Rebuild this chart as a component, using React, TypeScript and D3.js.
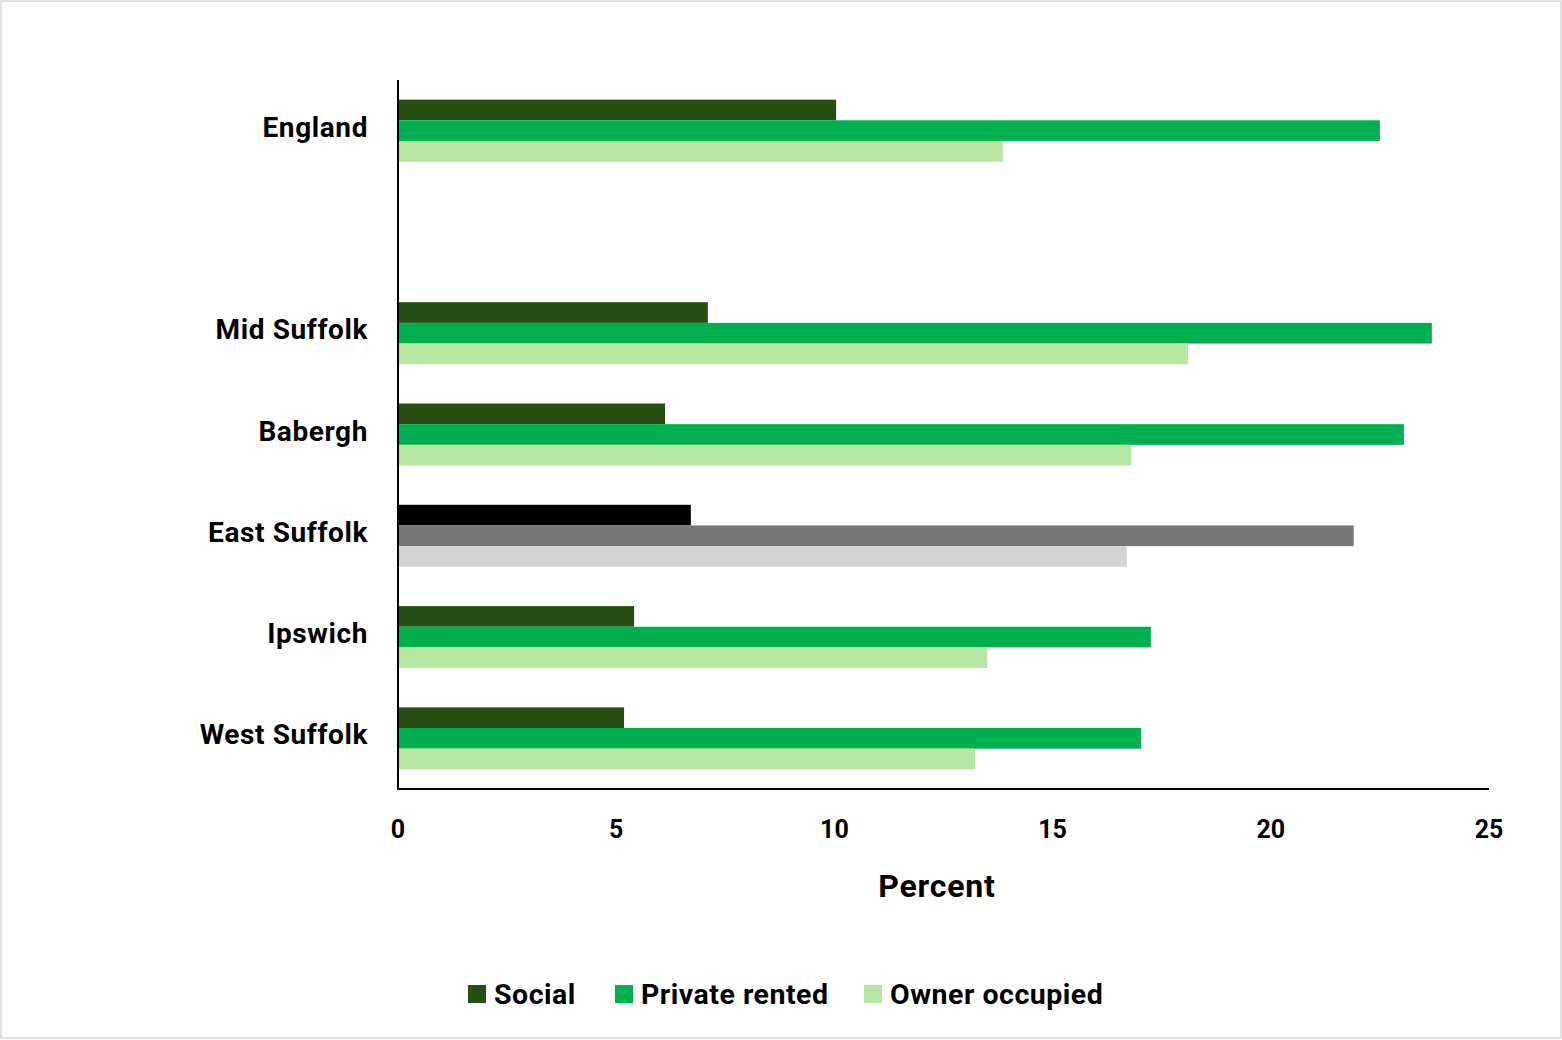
import React from "react";
import * as d3 from "d3";

const categories = ["England", "", "Mid Suffolk", "Babergh", "East Suffolk", "Ipswich", "West Suffolk"];
const seriesNames = ["Social", "Private rented", "Owner occupied"];
const socialValues = [10.04, NaN, 7.1, 6.12, 6.71, 5.41, 5.18];
const privateValues = [22.5, NaN, 23.69, 23.05, 21.9, 17.25, 17.03];
const ownerValues = [13.86, NaN, 18.1, 16.8, 16.7, 13.5, 13.22];
const xTicks = [0, 5, 10, 15, 20, 25];

const greenColors = ["#274E13", "#00B050", "#B5E6A2"];
const greyColors = ["#000000", "#767676", "#D3D3D3"];
const highlighted = "East Suffolk";

const W = 1562;
const H = 1040;
const FONT = "Roboto, 'Liberation Sans', sans-serif";

export default function App() {
  const x = d3.scaleLinear().domain([0, 25]).range([398, 1489]);
  const y = d3.scaleBand().domain(categories).range([80, 789]).paddingInner(0).paddingOuter(0);
  const groupH = 62;
  const inner = d3.scaleBand().domain(seriesNames).range([0, groupH]);
  const seriesVals = [socialValues, privateValues, ownerValues];

  const legendX = [468, 615, 864];

  return (
    <svg width={W} height={H} style={{ position: "absolute", left: 0, top: 0, background: "#fff" }}>
      <rect x={1} y={1} width={W - 2} height={H - 3} fill="#fff" stroke="#d9d9d9" strokeWidth={1.5} />
      {categories.map((c, i) => {
        if (!c) return null;
        const cy = (y(c) as number) + y.bandwidth() / 2;
        const top = cy - groupH / 2;
        return (
          <g key={c}>
            {seriesNames.map((s, j) => {
              const v = seriesVals[j][i];
              const col = c === highlighted ? greyColors[j] : greenColors[j];
              return (
                <rect key={s} x={x(0)} y={top + (inner(s) as number)} width={x(v) - x(0)} height={inner.bandwidth()} fill={col} />
              );
            })}
            <text x={368} y={cy + 6} textAnchor="end" fontFamily={FONT} fontWeight="bold" fontSize={28} letterSpacing={0.6} fill="#000">
              {c}
            </text>
          </g>
        );
      })}
      <line x1={398} y1={80} x2={398} y2={789} stroke="#000" strokeWidth={2} />
      <line x1={397} y1={789} x2={1489} y2={789} stroke="#000" strokeWidth={2} />
      {xTicks.map((t) => (
        <text key={t} x={x(t)} y={838} textAnchor="middle" fontFamily={FONT} fontWeight="bold" fontSize={25} fill="#000">
          {t}
        </text>
      ))}
      <text x={937} y={897} textAnchor="middle" fontFamily={FONT} fontWeight="bold" fontSize={32} letterSpacing={0.8} fill="#000">
        Percent
      </text>
      {seriesNames.map((s, j) => (
        <g key={s}>
          <rect x={legendX[j]} y={985} width={18} height={18} fill={greenColors[j]} />
          <text x={legendX[j] + 26} y={1004} fontFamily={FONT} fontWeight="bold" fontSize={28.5} letterSpacing={0.5} fill="#000">
            {s}
          </text>
        </g>
      ))}
    </svg>
  );
}
